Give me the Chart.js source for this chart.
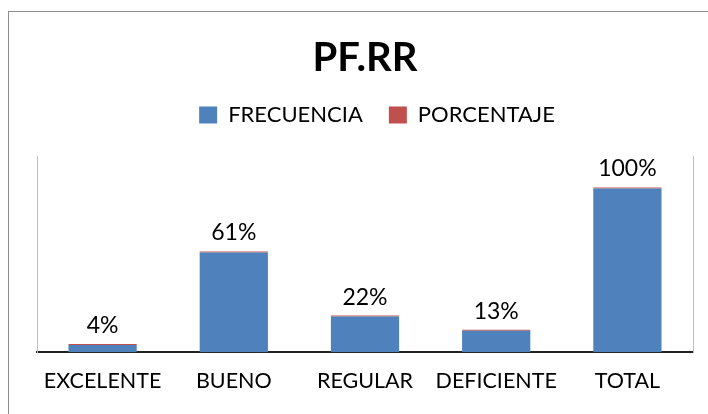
<!DOCTYPE html>
<html>
<head>
<meta charset="utf-8">
<script src="https://cdn.jsdelivr.net/npm/chart.js@4.4.0/dist/chart.umd.min.js"></script>
<style>
  html, body { margin: 0; padding: 0; background: #fff; }
  #wrap { position: relative; width: 708px; height: 414px; }
</style>
</head>
<body>
<div id="wrap"><canvas id="chart" width="708" height="414"></canvas></div>
<script>
// chart data
const categories = ['EXCELENTE', 'BUENO', 'REGULAR', 'DEFICIENTE', 'TOTAL'];
const frecuencia = [7, 98, 35, 21, 161];
const porcentaje = [0.04, 0.61, 0.22, 0.13, 1];
const yMax = 193;

const FONT = 'Lato, "Open Sans", sans-serif';

// grey frame round the whole chart (only left and top edges are in view)
const framePlugin = {
    id: 'frame',
    afterLayout(chart) {
        // the legend sits a little right of centre in the original
        chart.legend.left += 12;
        chart.legend.right += 12;
    },
    beforeDraw(chart) {
        const ctx = chart.ctx;
        ctx.save();
        ctx.strokeStyle = '#8c8c8c';
        ctx.lineWidth = 1;
        ctx.strokeRect(8.5, 11.5, 800, 500);
        ctx.restore();
    }
};

// percentage labels above each stack
const labelPlugin = {
    id: 'pctLabels',
    afterDatasetsDraw(chart) {
        const ctx = chart.ctx;
        const meta = chart.getDatasetMeta(1);
        ctx.save();
        ctx.font = '23px ' + FONT;
        ctx.fillStyle = '#000';
        ctx.textAlign = 'center';
        ctx.textBaseline = 'bottom';
        meta.data.forEach((bar, i) => {
            const txt = Math.round(porcentaje[i] * 100) + '%';
            ctx.fillText(txt, bar.x, bar.y - 7);
        });
        ctx.restore();
    }
};

const ctx = document.getElementById('chart').getContext('2d');
const chart = new Chart(ctx, {
    type: 'bar',
    data: {
        labels: categories,
        datasets: [{
            label: 'FRECUENCIA',
            data: frecuencia,
            backgroundColor: '#4f81bd',
            categoryPercentage: 1,
            barPercentage: 0.52
        }, {
            label: 'PORCENTAJE',
            data: porcentaje,
            backgroundColor: '#c0504d',
            minBarLength: 1,
            categoryPercentage: 1,
            barPercentage: 0.52
        }]
    },
    options: {
        responsive: false,
        animation: false,
        layout: {
            padding: { left: 37, right: 15, top: 10, bottom: 12 }
        },
        plugins: {
            title: {
                display: true,
                text: 'PF.RR',
                color: '#000',
                font: { family: FONT, size: 40, weight: 'bold', lineHeight: 1.0 },
                padding: { top: 28, bottom: 0 }
            },
            legend: {
                display: true,
                labels: {
                    color: '#000',
                    font: { family: FONT, size: 22 },
                    boxWidth: 18,
                    boxHeight: 17,
                    padding: 26
                }
            },
            tooltip: { enabled: false }
        },
        scales: {
            x: {
                stacked: true,
                grid: { display: false },
                border: { display: true, color: '#222', width: 2 },
                ticks: {
                    color: '#000',
                    font: { family: FONT, size: 21.5 },
                    padding: 8,
                    autoSkip: false,
                    maxRotation: 0
                }
            },
            // empty top axis, only used to leave a gap under the legend
            x2: {
                position: 'top',
                grid: { display: false, drawTicks: true, tickLength: 20 },
                border: { display: false },
                ticks: { display: false }
            },
            y: {
                stacked: true,
                min: 0,
                max: yMax,
                grid: { display: false, drawTicks: false },
                border: { display: true, color: '#bfbfbf', width: 1 },
                ticks: { display: false }
            },
            y2: {
                position: 'right',
                min: 0,
                max: yMax,
                grid: { display: false, drawTicks: false },
                border: { display: true, color: '#bfbfbf', width: 1 },
                ticks: { display: false }
            }
        }
    },
    plugins: [framePlugin, labelPlugin]
});
</script>
</body>
</html>
